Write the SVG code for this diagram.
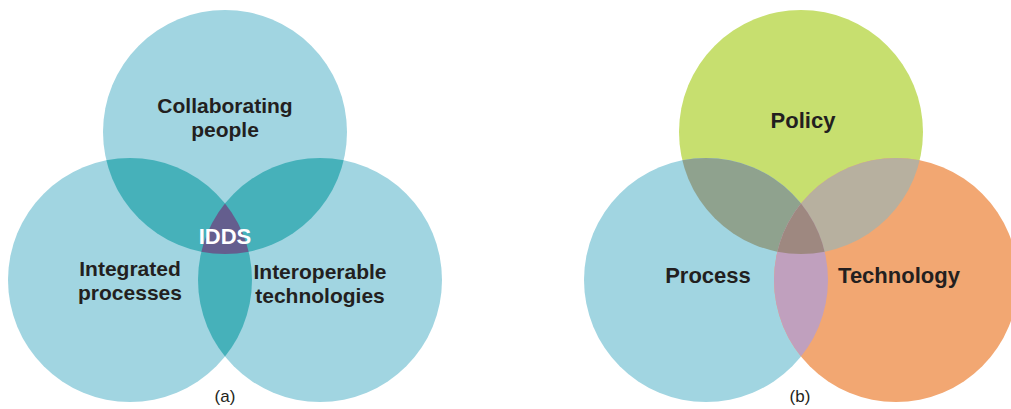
<svg xmlns="http://www.w3.org/2000/svg" width="1011" height="409" viewBox="0 0 1011 409">
<style>
.lbl{font-family:"Liberation Sans",Arial,sans-serif;font-weight:bold;font-size:22px;fill:#231f20;text-anchor:middle}
.ml{font-size:21px}
.cap{font-family:"Liberation Sans",Arial,sans-serif;font-size:17px;fill:#231f20;text-anchor:middle}
.w{fill:#ffffff}
</style>
<defs>
<clipPath id="aT"><circle cx="225" cy="132" r="122"/></clipPath>
<clipPath id="aL"><circle cx="130" cy="280" r="122"/></clipPath>
<clipPath id="aR"><circle cx="320" cy="280" r="122"/></clipPath>
<clipPath id="bT"><circle cx="801" cy="132" r="122"/></clipPath>
<clipPath id="bL"><circle cx="706" cy="280" r="122"/></clipPath>
<clipPath id="bR"><circle cx="896" cy="280" r="122"/></clipPath>
</defs>
<rect width="1011" height="409" fill="#ffffff"/>
<g id="diagram-a">
<g id="a-top"><circle cx="225" cy="132" r="122" fill="#a1d5e1"/></g>
<g id="a-left"><circle cx="130" cy="280" r="122" fill="#a1d5e1"/></g>
<g id="a-right"><circle cx="320" cy="280" r="122" fill="#a1d5e1"/></g>
<g id="a-overlaps">
<circle cx="225" cy="132" r="122" fill="#46b1ba" clip-path="url(#aL)"/>
<circle cx="225" cy="132" r="122" fill="#46b1ba" clip-path="url(#aR)"/>
<circle cx="130" cy="280" r="122" fill="#46b1ba" clip-path="url(#aR)"/>
<g clip-path="url(#aT)"><circle cx="130" cy="280" r="122" fill="#645e8e" clip-path="url(#aR)"/></g>
</g>
<text class="lbl ml" x="225" y="113">Collaborating<tspan x="225" dy="24">people</tspan></text>
<text class="lbl w" x="225" y="244">IDDS</text>
<text class="lbl ml" x="130" y="276">Integrated<tspan x="130" dy="24">processes</tspan></text>
<text class="lbl ml" x="320" y="279">Interoperable<tspan x="320" dy="24">technologies</tspan></text>
<text class="cap" x="225" y="402">(a)</text>
</g>
<g id="diagram-b">
<g id="b-policy"><circle cx="801" cy="132" r="122" fill="#c7df6f"/></g>
<g id="b-process"><circle cx="706" cy="280" r="122" fill="#a1d5e1"/></g>
<g id="b-technology"><circle cx="896" cy="280" r="122" fill="#f2a772"/></g>
<g id="b-overlaps">
<circle cx="801" cy="132" r="122" fill="#8fa28e" clip-path="url(#bL)"/>
<circle cx="801" cy="132" r="122" fill="#b7b09f" clip-path="url(#bR)"/>
<circle cx="706" cy="280" r="122" fill="#c0a0be" clip-path="url(#bR)"/>
<g clip-path="url(#bT)"><circle cx="706" cy="280" r="122" fill="#9e8880" clip-path="url(#bR)"/></g>
</g>
<text class="lbl" x="803" y="128">Policy</text>
<text class="lbl" x="708" y="283">Process</text>
<text class="lbl" x="899" y="283">Technology</text>
<text class="cap" x="800" y="402">(b)</text>
</g>
</svg>
